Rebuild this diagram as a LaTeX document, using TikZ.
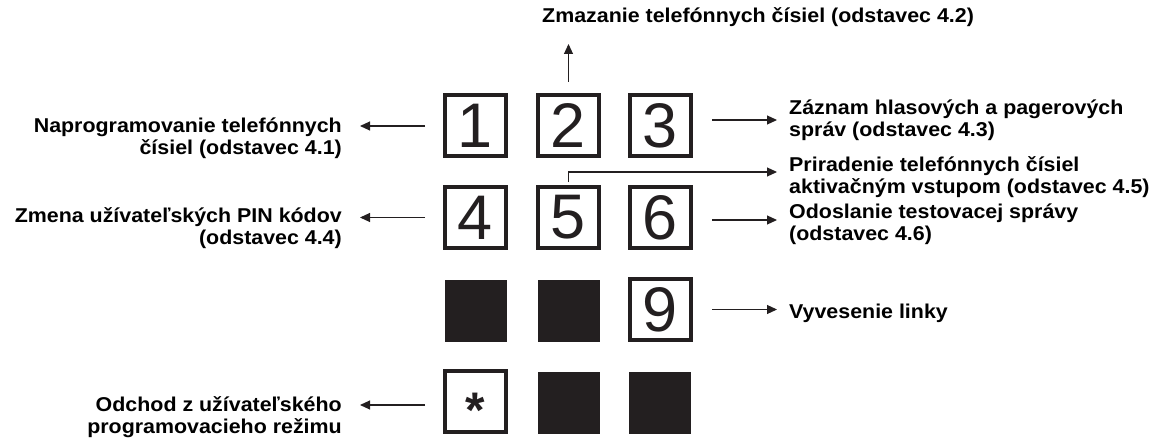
\documentclass[tikz,border=0pt]{standalone}
\usepackage{fontspec}
\setmainfont{Liberation Sans}[FakeStretch=1.07]
\newfontfamily\keyfont{Liberation Sans}
\usetikzlibrary{arrows.meta}
\definecolor{ink}{HTML}{231F20}
\begin{document}
\begin{tikzpicture}[x=1pt,y=-1pt,
  keybox/.style={draw=ink, line width=4pt, minimum size=61pt, inner sep=0pt, fill=white, text=ink,
    font=\keyfont\fontsize{63}{63}\selectfont},
  blank/.style={fill=ink, minimum size=62pt, inner sep=0pt},
  lbl/.style={font=\bfseries\fontsize{20}{22}\selectfont, inner sep=0pt, text=black},
  arr/.style={draw=ink, line width=1.1pt, -{Triangle[length=10pt,width=9pt]}}]
\useasboundingbox (0,0) rectangle (1162,441);
% keys
\node[keybox] (k1) at (475.5,125.5) {1};
\node[keybox] (k2) at (568.5,125.5) {2};
\node[keybox] (k3) at (660.5,125.5) {3};
\node[keybox] (k4) at (475.5,217.5) {4};
\node[keybox] (k5) at (568.5,217.5) {5};
\node[keybox] (k6) at (660.5,217.5) {6};
\node[blank]  (k7) at (476,310.5) {};
\node[blank]  (k8) at (568.5,310.5) {};
\node[keybox] (k9) at (660.5,309.5) {9};
\node[keybox] (ks) at (475.5,401.5) {};
\node[anchor=base, inner sep=0pt, text=ink, font=\keyfont\bfseries\fontsize{50}{50}\selectfont] (star) at (475.5,427) {*};
\node[blank]  (k0) at (568.5,403) {};
\node[blank]  (kh) at (659.5,403) {};
% labels (base anchor = baseline of the last line)
\node[lbl, anchor=base west] (t2) at (542,22.7) {Zmazanie telefónnych čísiel (odstavec 4.2)};
\node[lbl, align=right, anchor=base east] (t1) at (342,154.5) {Naprogramovanie telefónnych\\čísiel (odstavec 4.1)};
\node[lbl, align=right, anchor=base east] (t4) at (342,244.5) {Zmena užívateľských PIN kódov\\(odstavec 4.4)};
\node[lbl, align=right, anchor=base east] (ts) at (342,433.5) {Odchod z užívateľského\\programovacieho režimu};
\node[lbl, align=left, anchor=base west] (t3) at (789,137) {Záznam hlasových a pagerových\\správ (odstavec 4.3)};
\node[lbl, align=left, anchor=base west] (t5) at (789,193.5) {Priradenie telefónnych čísiel\\aktivačným vstupom (odstavec 4.5)};
\node[lbl, align=left, anchor=base west] (t6) at (789,240) {Odoslanie testovacej správy\\(odstavec 4.6)};
\node[lbl, anchor=base west] (t9) at (789,318) {Vyvesenie linky};
% connectors
\coordinate (c2) at (568.5,44);
\coordinate (c5) at (777,172);
\draw[arr, shorten <=18pt, shorten >=18pt] ([yshift=-0.5pt]k1.west) -- ([yshift=-0.5pt]k1.west -| t1.east);
\draw[arr, shorten <=18pt, shorten >=18pt] (k4.west) -- (k4.west -| t4.east);
\draw[arr, shorten <=18pt, shorten >=18pt] ([yshift=-3.5pt]ks.west) -- ([yshift=-3.5pt]ks.west -| ts.east);
\draw[arr, shorten <=11pt] (k2.north) -- (c2);
\draw[arr, shorten <=19pt, shorten >=12pt] ([yshift=5.5pt]k3.east) -- ([yshift=5.5pt]k3.east -| t3.west);
\draw[arr, shorten <=19pt, shorten >=12pt] ([yshift=-2.5pt]k6.east) -- ([yshift=-2.5pt]k6.east -| t6.west);
\draw[arr, shorten <=19pt, shorten >=12pt] (k9.east) -- (k9.east -| t9.west);
\draw[arr] ([yshift=3pt]k5.north) |- (c5);
\end{tikzpicture}
\end{document}
